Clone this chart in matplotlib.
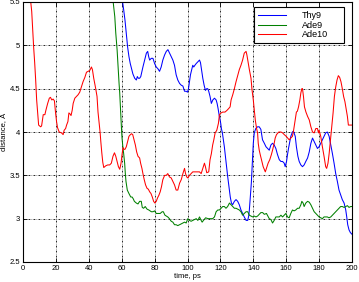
import matplotlib
matplotlib.use("Agg")
import matplotlib.pyplot as plt

plt.rcParams['font.family'] = ['Liberation Sans', 'DejaVu Sans']

labels = ["Thy9", "Ade9", "Ade10"]
colors = ["#0000ff", "#008000", "#ff0000"]

x_ticks = [0, 20, 40, 60, 80, 100, 120, 140, 160, 180, 200]
y_ticks = [2.5, 3, 3.5, 4, 4.5, 5, 5.5]
y_tick_labels = ["2.5", "3", "3.5", "4", "4.5", "5", "5.5"]

thy9_t = [55, 58, 60.4, 61.2, 62.0, 62.8, 63.6, 64.4, 65.2, 66.1, 66.8, 67.9, 68.9, 69.5, 70.1, 70.9,
          71.6, 72.3, 72.9, 73.7, 74.3, 75.0, 75.8, 76.4, 77.0, 78.0, 79.0, 80.0, 81.0, 82.0, 83.0,
          84.0, 85.0, 86.1, 87.1, 88.1, 89.1, 90.1, 91.1, 92.1, 93.1, 94.1, 95.2, 96.2, 97.2, 98.2,
          99.2, 100.0, 100.6, 101.2, 101.8, 102.6, 103.2, 103.8, 104.5, 105.3, 106.3, 107.3, 107.9,
          108.5, 109.3, 110.1, 110.9, 111.7, 112.3, 112.9, 113.7, 114.5, 115.4, 116.4, 117.4, 118.0,
          118.6, 119.2, 119.8, 120.2, 120.6, 121.2, 122.4, 123.5, 124.4, 125.5, 126.0, 126.7, 127.4,
          128.5, 129.5, 130.5, 131.5, 132.5, 133.5, 134.5, 135.6, 136.6, 137.2, 137.6, 138.2, 138.8,
          139.2, 139.6, 140.0, 140.6, 141.5, 142.6, 143.6, 144.6, 145.6, 146.7, 147.7, 148.7, 149.7,
          150.7, 151.7, 152.7, 153.7, 154.7, 155.8, 156.8, 157.8, 158.8, 159.4, 160.2, 160.8, 161.4,
          162.2, 162.8, 163.8, 164.4, 165.5, 166.2, 167.1, 167.9, 168.9, 169.9, 170.9, 171.9, 173.0,
          174.0, 175.0, 176.0, 177.0, 178.0, 179.0, 180.0, 181.0, 182.0, 183.0, 184.0, 185.0, 186.1,
          187.1, 188.1, 189.1, 190.1, 191.1, 192.1, 193.2, 194.1, 195.2, 196.2, 196.8, 197.4, 198.2,
          199.0, 200.0]
thy9_d = [6.2, 5.85, 5.52, 5.41, 5.29, 5.14, 4.98, 4.87, 4.79, 4.72, 4.67, 4.62, 4.60, 4.64, 4.62, 4.62,
          4.64, 4.70, 4.75, 4.81, 4.85, 4.91, 4.93, 4.87, 4.83, 4.85, 4.85, 4.79, 4.75, 4.73, 4.70,
          4.75, 4.83, 4.89, 4.93, 4.95, 4.91, 4.87, 4.83, 4.77, 4.66, 4.60, 4.56, 4.54, 4.53, 4.47,
          4.47, 4.46, 4.50, 4.58, 4.66, 4.72, 4.77, 4.75, 4.77, 4.79, 4.81, 4.83, 4.80,
          4.72, 4.62, 4.54, 4.48, 4.50, 4.50, 4.47, 4.41, 4.33, 4.37, 4.39, 4.37, 4.33,
          4.27, 4.20, 4.14, 4.10, 4.04, 3.99, 3.83, 3.64, 3.49, 3.33, 3.25, 3.18, 3.16,
          3.20, 3.22, 3.20, 3.16, 3.10, 3.06, 3.02, 2.98, 2.98, 3.03, 3.10, 3.25, 3.41,
          3.56, 3.72, 3.87, 3.99, 4.04, 4.06, 4.06, 4.03, 3.91, 3.87, 3.83, 3.81, 3.79,
          3.85, 3.87, 3.85, 3.81, 3.74, 3.68, 3.66, 3.66, 3.64, 3.60, 3.66, 3.74, 3.81,
          3.89, 3.95, 4.00, 4.01, 3.95, 3.83, 3.72, 3.66, 3.62, 3.60, 3.62, 3.66, 3.70,
          3.77, 3.87, 3.93, 3.89, 3.85, 3.81, 3.83, 3.87, 3.91, 3.95, 3.99, 4.00, 3.95,
          3.85, 3.75, 3.64, 3.52, 3.43, 3.33, 3.27, 3.22, 3.18, 3.10, 3.02, 2.93, 2.87,
          2.84, 2.82]

ade9_t = [50, 54.7, 55.8, 56.4, 57.2, 57.8, 58.4, 58.8, 59.2, 59.6, 60.0, 60.2, 60.8, 61.2, 61.8, 62.2,
          62.6, 63.4, 64.4, 65.5, 66.3, 67.0, 67.7, 68.9, 69.9, 70.9, 71.9, 72.5, 73.3, 74.3, 75.4,
          76.5, 78.0, 79.0, 80.0, 81.0, 83.4, 84.6, 85.3, 86.3, 87.1, 88.0, 89.0, 90.1, 91.1, 92.1,
          93.1, 94.1, 95.2, 96.2, 97.2, 98.2, 99.2, 100.2, 101.2, 102.2, 103.2, 104.3, 105.3, 106.3,
          107.3, 108.3, 108.9, 109.7, 111.0, 112.5, 114.3, 115.3, 116.4, 117.4, 118.4, 119.4, 120.4,
          121.4, 122.4, 123.4, 124.4, 125.5, 126.5, 127.5, 128.5, 129.5, 130.5, 131.5, 132.5, 133.5,
          134.5, 135.6, 136.6, 137.6, 138.6, 139.6, 140.6, 141.6, 142.6, 143.6, 144.6, 145.7, 146.7,
          148.0, 149.7, 150.7, 151.7, 152.7, 153.7, 154.7, 155.8, 156.8, 157.8, 158.8, 159.8, 160.8,
          161.8, 162.8, 163.8, 164.8, 165.8, 166.9, 167.9, 168.9, 169.5, 170.3, 170.9, 171.9, 173.0,
          174.0, 175.0, 176.0, 177.0, 178.0, 179.0, 180.0, 181.0, 182.0, 183.0, 184.0, 185.0, 186.0,
          187.1, 188.1, 189.1, 190.1, 191.1, 192.1, 193.1, 194.1, 195.2, 196.2, 197.2, 198.2, 199.2,
          200.0]
ade9_d = [6.5, 5.52, 5.33, 5.14, 4.95, 4.75, 4.56, 4.45, 4.29, 4.14, 3.99, 3.93, 3.81, 3.75, 3.64, 3.52,
          3.43, 3.33, 3.29, 3.25, 3.25, 3.23, 3.20, 3.18, 3.17, 3.20, 3.20, 3.13, 3.12, 3.14, 3.11,
          3.10, 3.08, 3.08, 3.09, 3.06, 3.06, 3.08, 3.08, 3.04, 3.03, 3.02, 3.00, 2.97, 2.96, 2.93,
          2.93, 2.92, 2.93, 2.94, 2.95, 2.96, 2.95, 3.00, 2.98, 2.97, 2.98, 2.99, 3.00, 2.98,
          3.02, 2.98, 2.96, 2.98, 3.01, 3.00, 3.00, 3.00, 3.02, 3.08, 3.10, 3.10, 3.12,
          3.14, 3.14, 3.12, 3.14, 3.18, 3.16, 3.14, 3.12, 3.12, 3.11, 3.10, 3.08, 3.04,
          3.06, 3.08, 3.08, 3.04, 3.03, 3.02, 3.03, 3.02, 3.03, 3.05, 3.07, 3.07, 3.05,
          3.06, 3.00, 2.99, 2.95, 2.98, 3.02, 3.02, 3.02, 3.04, 3.02, 3.04, 3.06, 3.02,
          3.01, 3.06, 3.10, 3.09, 3.10, 3.12, 3.12, 3.16, 3.20, 3.18, 3.14, 3.18, 3.20,
          3.19, 3.16, 3.12, 3.08, 3.06, 3.04, 3.02, 3.01, 3.00, 3.02, 3.02, 3.02, 3.01,
          3.02, 3.04, 3.06, 3.08, 3.10, 3.12, 3.14, 3.14, 3.13, 3.14, 3.15, 3.13, 3.14,
          3.14]

ade10_t = [0, 2, 4, 4.6, 5.3, 5.9, 6.5, 7.1, 7.7, 8.3, 8.9, 9.5, 10.7, 11.3, 12.3, 13.3, 13.9, 15.0,
           16.0, 16.7, 17.5, 18.3, 19.1, 19.8, 20.4, 21.0, 22.0, 23.4, 24.4, 25.0, 25.9, 26.5, 27.3,
           27.9, 28.5, 29.2, 29.9, 30.5, 31.5, 32.5, 33.5, 34.5, 35.5, 36.5, 37.6, 38.6, 39.6, 40.6,
           41.6, 42.2, 43.0, 44.2, 45.0, 45.6, 46.3, 46.9, 47.3, 47.9, 48.5, 49.1, 50.3, 51.5, 52.7,
           53.7, 54.7, 55.6, 56.4, 57.2, 58.0, 58.8, 59.6, 60.2, 60.8, 61.4, 62.0, 62.8, 63.6, 64.4,
           65.3, 66.0, 66.7, 67.5, 68.3, 69.1, 69.9, 70.9, 71.5, 72.3, 72.9, 73.7, 74.5, 75.4, 76.2,
           77.0, 77.8, 78.6, 79.4, 80.2, 81.0, 81.8, 82.6, 83.4, 84.2, 85.0, 86.1, 87.1, 88.0, 89.1,
           90.1, 91.1, 92.1, 93.1, 94.1, 95.2, 96.2, 97.2, 98.2, 98.8, 99.6, 100.2, 101.2, 103.2,
           105.3, 107.3, 108.3, 109.3, 110.3, 110.9, 111.7, 112.9, 113.7, 114.5, 115.3, 116.0, 116.8,
           117.8, 118.8, 119.4, 120.4, 121.4, 122.8, 124.0, 125.0, 125.9, 126.5, 127.5, 128.5, 129.5,
           130.5, 131.5, 132.5, 133.5, 134.5, 135.6, 136.1, 136.8, 137.6, 138.6, 139.2, 140.0, 140.6,
           141.2, 142.0, 142.6, 143.0, 143.6, 144.2, 145.0, 146.0, 147.3, 148.0, 149.0, 150.0, 151.0,
           151.7, 152.7, 153.3, 154.1, 155.5, 156.8, 157.8, 158.8, 160.0, 161.8, 162.8, 163.8, 164.5,
           165.5, 166.2, 166.8, 167.5, 168.3, 168.9, 169.5, 169.9, 170.5, 171.1, 172.0, 173.0, 174.0,
           175.0, 176.0, 177.0, 178.0, 179.0, 179.6, 180.0, 181.0, 182.0, 183.0, 184.0, 184.6, 185.4,
           186.1, 186.7, 187.3, 188.5, 189.3, 190.1, 190.9, 191.7, 192.5, 193.3, 194.1, 194.9, 195.7,
           196.4, 197.2, 197.8, 198.6, 199.4, 200.0]
ade10_d = [6.3, 6.0, 5.65, 5.52, 5.39, 5.18, 4.97, 4.80, 4.60, 4.37, 4.22, 4.08, 4.06, 4.07, 4.20, 4.20, 4.25, 4.33,
           4.39, 4.40, 4.37, 4.38, 4.36, 4.22, 4.12, 4.05, 4.00, 3.99, 3.97, 4.02, 4.04, 4.08, 4.12,
           4.22, 4.21, 4.19, 4.25, 4.33, 4.39, 4.41, 4.43, 4.46, 4.52, 4.58, 4.63, 4.69, 4.70, 4.71,
           4.75, 4.72, 4.62, 4.50, 4.41, 4.23, 4.10, 3.99, 3.89, 3.76, 3.65, 3.59, 3.61, 3.62, 3.62,
           3.64, 3.72, 3.76, 3.72, 3.66, 3.60, 3.57, 3.64, 3.74, 3.82, 3.80, 3.80, 3.83, 3.89, 3.95,
           3.97, 3.98, 3.97, 3.91, 3.85, 3.77, 3.72, 3.70, 3.64, 3.58, 3.52, 3.45, 3.39, 3.35, 3.34,
           3.31, 3.29, 3.25, 3.20, 3.18, 3.20, 3.24, 3.27, 3.31, 3.37, 3.45, 3.50, 3.50, 3.52, 3.48,
           3.47, 3.43, 3.39, 3.33, 3.33, 3.41, 3.45, 3.52, 3.58, 3.52, 3.48, 3.47, 3.50, 3.54,
           3.54, 3.54, 3.52, 3.58, 3.64, 3.60, 3.53, 3.54, 3.68, 3.75, 3.85, 3.91, 3.99,
           4.02, 4.10, 4.20, 4.22, 4.23, 4.23, 4.25, 4.27, 4.29, 4.37, 4.43, 4.50, 4.58,
           4.65, 4.72, 4.77, 4.83, 4.91, 4.93, 4.89, 4.81, 4.72, 4.62, 4.49, 4.37, 4.25,
           4.14, 4.04, 3.99, 3.87, 3.79, 3.74, 3.68, 3.60, 3.54, 3.58, 3.64, 3.68, 3.74,
           3.79, 3.87, 3.93, 3.97, 4.00, 4.00, 3.99, 3.97, 3.95, 3.91, 3.93, 3.95, 4.02,
           4.14, 4.23, 4.24, 4.29, 4.37, 4.45, 4.50, 4.50, 4.41, 4.29, 4.23, 4.18, 4.14,
           4.06, 4.00, 3.99, 4.04, 4.04, 3.99, 4.02, 3.95, 3.83, 3.72, 3.60, 3.58, 3.64,
           3.75, 3.87, 3.99, 4.22, 4.41, 4.52, 4.60, 4.65, 4.63, 4.58, 4.50, 4.41, 4.35,
           4.27, 4.18, 4.08, 4.08, 4.08, 4.08]

series = [(thy9_t, thy9_d), (ade9_t, ade9_d), (ade10_t, ade10_d)]

fig = plt.figure(figsize=(3.59, 2.82), dpi=100)
ax = fig.add_axes([23/359, 1 - 262/282, 329/359, 260/282])

for (t, d), lab, col in zip(series, labels, colors):
    ax.plot(t, d, color=col, lw=0.75, label=lab)

ax.set_xlim(0, 200)
ax.set_ylim(2.5, 5.5)
ax.set_xticks(x_ticks)
ax.set_yticks(y_ticks)
ax.set_yticklabels(y_tick_labels)
ax.grid(True, color='black', lw=0.6, linestyle=(0, (2.2, 1.6, 0.6, 1.6)))
ax.tick_params(direction='in', length=3, width=0.6, labelsize=5.5, top=True, right=True, pad=2, colors='black')
for s in ax.spines.values():
    s.set_linewidth(0.8)
ax.set_xlabel("time, ps", fontsize=5.5, labelpad=1)
ax.set_ylabel("distance, Å", fontsize=5.5, labelpad=1)

leg = ax.legend(loc='upper left', bbox_to_anchor=(0.702, 0.845, 0.274, 0.135), mode='expand',
                borderaxespad=0, fontsize=6.5, fancybox=False, framealpha=1, edgecolor='black',
                handlelength=3.1, handletextpad=1.75, labelspacing=0.05, borderpad=0.45)
leg.get_frame().set_linewidth(0.8)

fig.savefig("out.png", dpi=100)
